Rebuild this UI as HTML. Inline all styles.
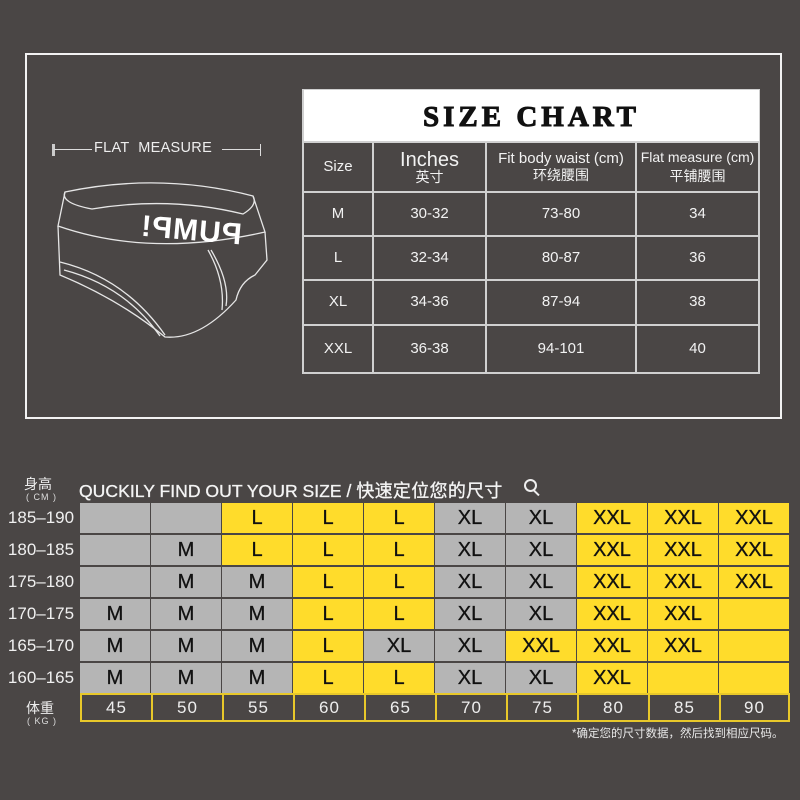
<!DOCTYPE html>
<html><head><meta charset="utf-8">
<style>
*{margin:0;padding:0;box-sizing:border-box}
body{width:800px;height:800px;background:#4a4645;position:relative;overflow:hidden;font-family:"Liberation Sans","Noto Sans CJK SC",sans-serif;color:#fff}
.a{position:absolute}
.frame{left:25px;top:53px;width:757px;height:366px;border:2px solid #f2f2f2}
.t{position:absolute;left:302px;top:89px;width:458px;height:285px;background:#d0d0d0}
.title{position:absolute;left:304px;top:90px;width:455px;height:51px;background:#fff;color:#111;font-family:"Liberation Serif",serif;font-weight:bold;font-size:29px;letter-spacing:4px;text-align:center;line-height:54px;-webkit-text-stroke:1px #111}
.c{position:absolute;background:#4a4645;display:flex;align-items:center;justify-content:center;text-align:center;font-size:15px;color:#f2f2f2;line-height:1.1}
.g{position:absolute;width:70px;height:30px;display:flex;align-items:center;justify-content:center;font-size:20px;color:#111;padding-top:1px;-webkit-text-stroke:0.3px #111}
.G{background:#b5b5b5}.Y{background:#ffdc2b}
.h{position:absolute;left:4px;width:74px;font-size:17px;color:#f0f0f0;text-align:center}
.w{position:absolute;top:693px;height:29px;width:71px;border:2px solid #e8c82a;border-right:none;font-size:17px;color:#eee;display:flex;align-items:center;justify-content:center;letter-spacing:1px;background:#4a4645}
</style></head><body>
<div class="a frame"></div>

<div class="a" style="left:52px;top:144px;width:3px;height:12px;background:#ccc"></div>
<div class="a" style="left:54px;top:149px;width:38px;height:1px;background:#ddd"></div>
<div class="a" style="left:94px;top:140px;font-size:14.5px;color:#eee;letter-spacing:0.3px">FLAT&nbsp; MEASURE</div>
<div class="a" style="left:222px;top:149px;width:38px;height:1px;background:#ddd"></div>
<div class="a" style="left:260px;top:144px;width:1px;height:12px;background:#ddd"></div>

<svg class="a" style="left:0;top:0" width="300" height="360" fill="none" stroke="#e6e6e6" stroke-width="1.3">
<path d="M65,192 Q160,172 253,196 Q258,205 243,214 Q170,196 92,209 Q60,203 65,192 Z"/>
<path d="M65,192 L58,226 Q150,258 265,232 L253,196"/>
<path d="M58,226 L60,275 Q120,300 165,337 Q200,340 236,300 Q240,282 255,275 L267,260 L265,232"/>
<path d="M60,262 Q125,278 165,335"/>
<path d="M64,270 Q125,286 160,336"/>
<path d="M208,250 Q225,280 222,310"/>
<path d="M211,250 Q230,282 226,306"/>
</svg>
<div class="a" style="left:140px;top:214px;font-size:30px;font-weight:900;color:#fff;transform:scaleX(-1) rotate(-5deg);letter-spacing:1px">PUMP!</div>

<div class="t"></div>
<div class="title">SIZE CHART</div>
<div class="c" style="left:304px;top:143px;width:68px;height:48px">Size</div>
<div class="c" style="left:374px;top:143px;width:111px;height:48px;font-size:20px;flex-direction:column;line-height:1">Inches<span style="font-size:14px">英寸</span></div>
<div class="c" style="left:487px;top:143px;width:148px;height:48px;flex-direction:column">Fit body waist (cm)<span style="font-size:14px">环绕腰围</span></div>
<div class="c" style="left:637px;top:143px;width:121px;height:48px;flex-direction:column;font-size:14px">Flat measure (cm)<span style="font-size:14px;margin-top:3px">平铺腰围</span></div>

<div class="c" style="left:304px;top:193px;width:68px;height:42px">M</div>
<div class="c" style="left:374px;top:193px;width:111px;height:42px">30-32</div>
<div class="c" style="left:487px;top:193px;width:148px;height:42px">73-80</div>
<div class="c" style="left:637px;top:193px;width:121px;height:42px">34</div>

<div class="c" style="left:304px;top:237px;width:68px;height:42px">L</div>
<div class="c" style="left:374px;top:237px;width:111px;height:42px">32-34</div>
<div class="c" style="left:487px;top:237px;width:148px;height:42px">80-87</div>
<div class="c" style="left:637px;top:237px;width:121px;height:42px">36</div>

<div class="c" style="left:304px;top:281px;width:68px;height:43px">XL</div>
<div class="c" style="left:374px;top:281px;width:111px;height:43px">34-36</div>
<div class="c" style="left:487px;top:281px;width:148px;height:43px">87-94</div>
<div class="c" style="left:637px;top:281px;width:121px;height:43px">38</div>

<div class="c" style="left:304px;top:326px;width:68px;height:46px">XXL</div>
<div class="c" style="left:374px;top:326px;width:111px;height:46px">36-38</div>
<div class="c" style="left:487px;top:326px;width:148px;height:46px">94-101</div>
<div class="c" style="left:637px;top:326px;width:121px;height:46px">40</div>

<div class="a" style="left:24px;top:474px;font-size:14px;color:#eee">身高</div>
<div class="a" style="left:26px;top:492px;font-size:9px;color:#ddd;letter-spacing:1px">( CM )</div>
<div class="a" style="left:79px;top:477px;font-size:17.6px;color:#f4f4f4;-webkit-text-stroke:0.3px #f4f4f4;white-space:nowrap">QUCKILY FIND OUT YOUR SIZE / <span style="font-size:18px;letter-spacing:0.3px">快速定位您的尺寸</span></div>
<div class="a" style="left:524px;top:479px;width:13px;height:13px;border:2px solid #eee;border-radius:50%"></div>
<div class="a" style="left:533px;top:492px;width:7px;height:2px;background:#eee;transform:rotate(45deg)"></div>

<div class="h" style="top:508px">185–190</div>
<div class="h" style="top:540px">180–185</div>
<div class="h" style="top:572px">175–180</div>
<div class="h" style="top:604px">170–175</div>
<div class="h" style="top:636px">165–170</div>
<div class="h" style="top:668px">160–165</div>

<div class="g G" style="left:80px;top:503px"></div>
<div class="g G" style="left:151px;top:503px"></div>
<div class="g Y" style="left:222px;top:503px">L</div>
<div class="g Y" style="left:293px;top:503px">L</div>
<div class="g Y" style="left:364px;top:503px">L</div>
<div class="g G" style="left:435px;top:503px">XL</div>
<div class="g G" style="left:506px;top:503px">XL</div>
<div class="g Y" style="left:577px;top:503px">XXL</div>
<div class="g Y" style="left:648px;top:503px">XXL</div>
<div class="g Y" style="left:719px;top:503px">XXL</div>
<div class="g G" style="left:80px;top:535px"></div>
<div class="g G" style="left:151px;top:535px">M</div>
<div class="g Y" style="left:222px;top:535px">L</div>
<div class="g Y" style="left:293px;top:535px">L</div>
<div class="g Y" style="left:364px;top:535px">L</div>
<div class="g G" style="left:435px;top:535px">XL</div>
<div class="g G" style="left:506px;top:535px">XL</div>
<div class="g Y" style="left:577px;top:535px">XXL</div>
<div class="g Y" style="left:648px;top:535px">XXL</div>
<div class="g Y" style="left:719px;top:535px">XXL</div>
<div class="g G" style="left:80px;top:567px"></div>
<div class="g G" style="left:151px;top:567px">M</div>
<div class="g G" style="left:222px;top:567px">M</div>
<div class="g Y" style="left:293px;top:567px">L</div>
<div class="g Y" style="left:364px;top:567px">L</div>
<div class="g G" style="left:435px;top:567px">XL</div>
<div class="g G" style="left:506px;top:567px">XL</div>
<div class="g Y" style="left:577px;top:567px">XXL</div>
<div class="g Y" style="left:648px;top:567px">XXL</div>
<div class="g Y" style="left:719px;top:567px">XXL</div>
<div class="g G" style="left:80px;top:599px">M</div>
<div class="g G" style="left:151px;top:599px">M</div>
<div class="g G" style="left:222px;top:599px">M</div>
<div class="g Y" style="left:293px;top:599px">L</div>
<div class="g Y" style="left:364px;top:599px">L</div>
<div class="g G" style="left:435px;top:599px">XL</div>
<div class="g G" style="left:506px;top:599px">XL</div>
<div class="g Y" style="left:577px;top:599px">XXL</div>
<div class="g Y" style="left:648px;top:599px">XXL</div>
<div class="g Y" style="left:719px;top:599px"></div>
<div class="g G" style="left:80px;top:631px">M</div>
<div class="g G" style="left:151px;top:631px">M</div>
<div class="g G" style="left:222px;top:631px">M</div>
<div class="g Y" style="left:293px;top:631px">L</div>
<div class="g G" style="left:364px;top:631px">XL</div>
<div class="g G" style="left:435px;top:631px">XL</div>
<div class="g Y" style="left:506px;top:631px">XXL</div>
<div class="g Y" style="left:577px;top:631px">XXL</div>
<div class="g Y" style="left:648px;top:631px">XXL</div>
<div class="g Y" style="left:719px;top:631px"></div>
<div class="g G" style="left:80px;top:663px">M</div>
<div class="g G" style="left:151px;top:663px">M</div>
<div class="g G" style="left:222px;top:663px">M</div>
<div class="g Y" style="left:293px;top:663px">L</div>
<div class="g Y" style="left:364px;top:663px">L</div>
<div class="g G" style="left:435px;top:663px">XL</div>
<div class="g G" style="left:506px;top:663px">XL</div>
<div class="g Y" style="left:577px;top:663px">XXL</div>
<div class="g Y" style="left:648px;top:663px"></div>
<div class="g Y" style="left:719px;top:663px"></div>

<div class="a" style="left:26px;top:698px;font-size:14px;color:#eee">体重</div>
<div class="a" style="left:27px;top:716px;font-size:9px;color:#ddd;letter-spacing:1px">( KG )</div>
<div class="w" style="left:80px">45</div>
<div class="w" style="left:151px">50</div>
<div class="w" style="left:222px">55</div>
<div class="w" style="left:293px">60</div>
<div class="w" style="left:364px">65</div>
<div class="w" style="left:435px">70</div>
<div class="w" style="left:506px">75</div>
<div class="w" style="left:577px">80</div>
<div class="w" style="left:648px">85</div>
<div class="w" style="left:719px;width:71px;border-right:2px solid #e8c82a">90</div>

<div class="a" style="left:572px;top:725px;font-size:11.5px;color:#e8e8e8">*确定您的尺寸数据，然后找到相应尺码。</div>
</body></html>
